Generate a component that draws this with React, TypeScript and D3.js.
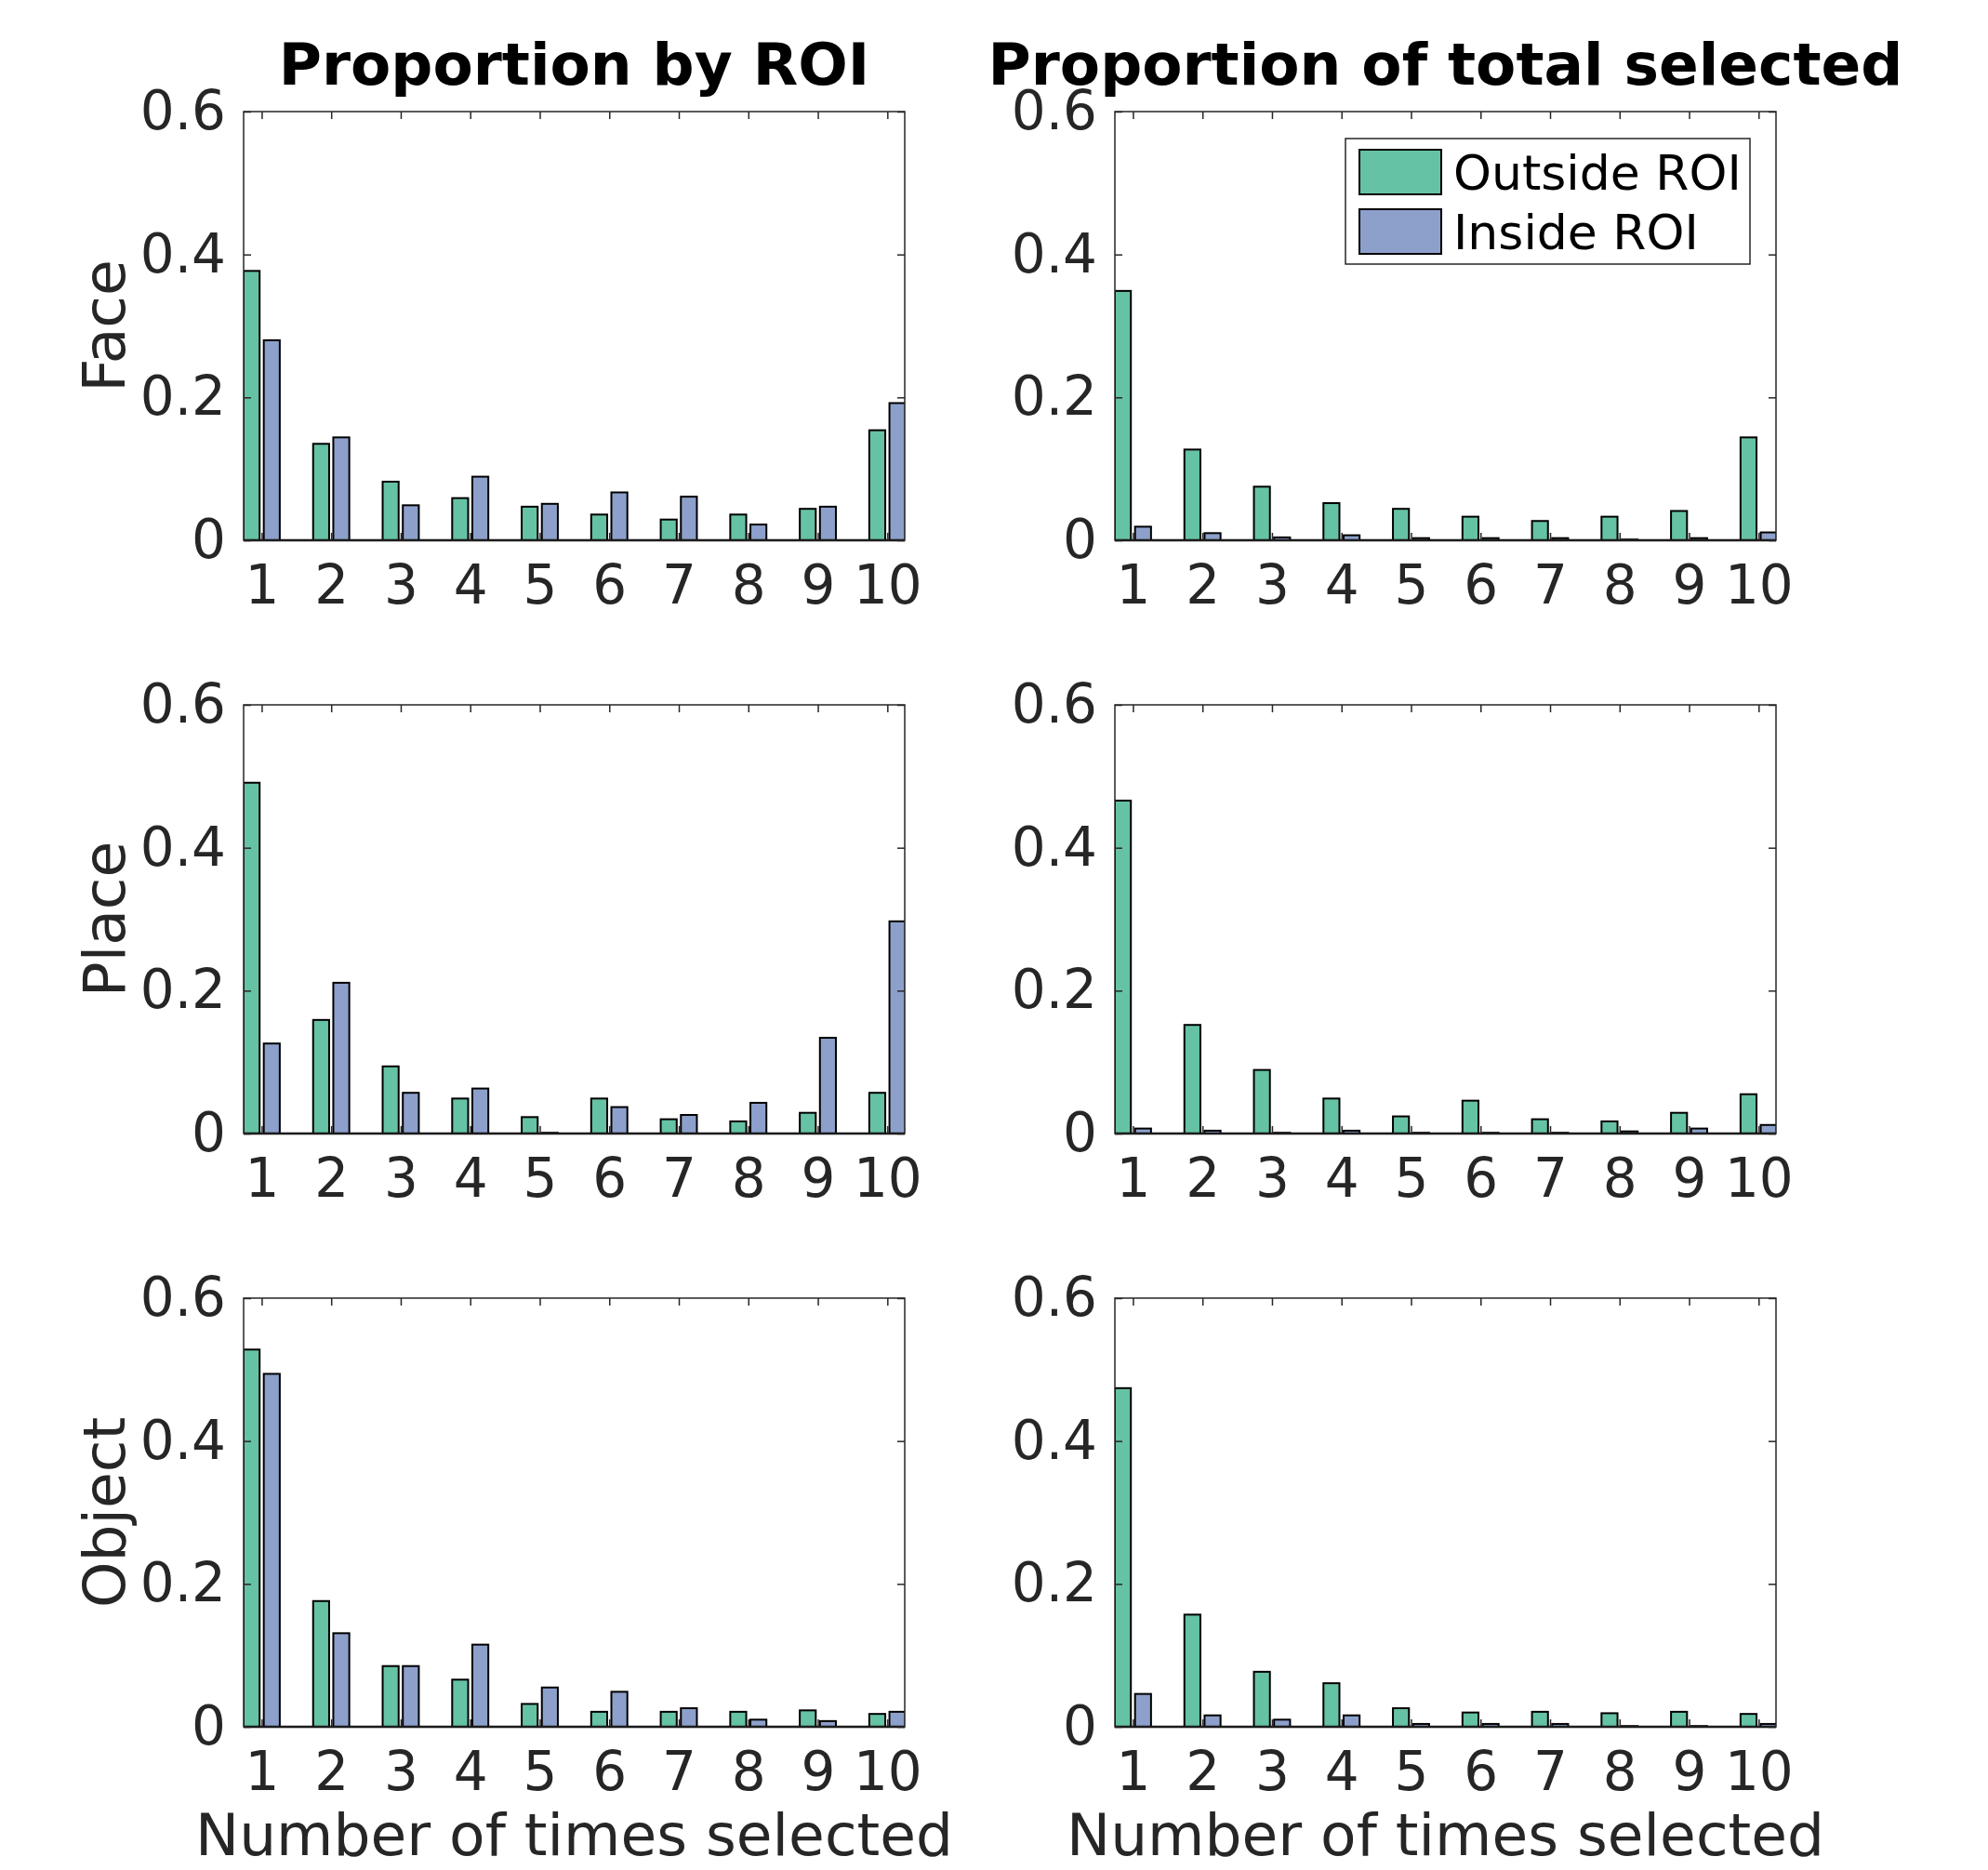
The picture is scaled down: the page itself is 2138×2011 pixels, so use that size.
import React, { useEffect, useRef } from "react";
import * as d3 from "d3";

// number of times an item was selected (x categories)
const timesSelected = [1, 2, 3, 4, 5, 6, 7, 8, 9, 10];
const yTicks = [0, 0.2, 0.4, 0.6];
const rowLabels = ["Face", "Place", "Object"];
const columnTitles = ["Proportion by ROI", "Proportion of total selected"];
const seriesNames = ["Outside ROI", "Inside ROI"];
const seriesColors = ["#66c2a5", "#8da0cb"];
const xLabel = "Number of times selected";

// left column: proportion by ROI
const faceByRoiOutside = [0.377, 0.135, 0.082, 0.059, 0.047, 0.036, 0.029, 0.036, 0.044, 0.154];
const faceByRoiInside = [0.28, 0.144, 0.049, 0.089, 0.051, 0.067, 0.061, 0.022, 0.047, 0.192];
const placeByRoiOutside = [0.491, 0.159, 0.094, 0.049, 0.023, 0.049, 0.02, 0.017, 0.029, 0.057];
const placeByRoiInside = [0.126, 0.211, 0.057, 0.063, 0.001, 0.037, 0.026, 0.043, 0.134, 0.297];
const objectByRoiOutside = [0.528, 0.176, 0.085, 0.066, 0.032, 0.021, 0.021, 0.021, 0.023, 0.018];
const objectByRoiInside = [0.494, 0.131, 0.085, 0.115, 0.055, 0.049, 0.026, 0.01, 0.008, 0.021];

// right column: proportion of total selected
const faceTotalOutside = [0.349, 0.127, 0.075, 0.052, 0.044, 0.033, 0.027, 0.033, 0.041, 0.144];
const faceTotalInside = [0.019, 0.01, 0.004, 0.007, 0.003, 0.003, 0.003, 0.001, 0.003, 0.011];
const placeTotalOutside = [0.466, 0.152, 0.089, 0.049, 0.024, 0.046, 0.02, 0.017, 0.029, 0.055];
const placeTotalInside = [0.007, 0.004, 0.001, 0.004, 0.001, 0.001, 0.001, 0.003, 0.007, 0.012];
const objectTotalOutside = [0.474, 0.157, 0.077, 0.061, 0.026, 0.02, 0.021, 0.019, 0.021, 0.018];
const objectTotalInside = [0.046, 0.016, 0.01, 0.016, 0.004, 0.004, 0.004, 0.001, 0.001, 0.004];

const panels = [
  [[faceByRoiOutside, faceByRoiInside], [faceTotalOutside, faceTotalInside]],
  [[placeByRoiOutside, placeByRoiInside], [placeTotalOutside, placeTotalInside]],
  [[objectByRoiOutside, objectByRoiInside], [objectTotalOutside, objectTotalInside]],
];

const WIDTH = 2138;
const HEIGHT = 2011;
const colX = [262, 1199];
const rowY = [120, 758, 1396];
const panelW = 711;
const panelH = 461;
const FONT = "DejaVu Sans";
const AX_COLOR = "#262626";
// bar extent relative to the group centre, for each series
const barOffsets = [
  [-0.26, -0.03],
  [0.03, 0.26],
];

const App = () => {
  const ref = useRef<SVGSVGElement>(null);

  useEffect(() => {
    const svg = d3.select(ref.current);
    svg.selectAll("*").remove();
    svg.append("rect").attr("width", WIDTH).attr("height", HEIGHT).attr("fill", "#fff");

    const x = d3.scaleLinear().domain([0.74, 10.25]).range([0, panelW]);
    const y = d3.scaleLinear().domain([0, 0.6]).range([panelH, 0]);

    panels.forEach((row, r) => {
      row.forEach((series, c) => {
        const g = svg
          .append("g")
          .attr("transform", "translate(" + colX[c] + "," + rowY[r] + ")");
        const clipId = "clip-" + r + "-" + c;
        g.append("clipPath")
          .attr("id", clipId)
          .append("rect")
          .attr("width", panelW)
          .attr("height", panelH);

        const bars = g.append("g").attr("clip-path", "url(#" + clipId + ")");
        series.forEach((vals, s) => {
          bars
            .selectAll(null)
            .data(vals)
            .enter()
            .append("rect")
            .attr("x", (d, i) => x(timesSelected[i] + barOffsets[s][0]))
            .attr("width", x(1 + barOffsets[s][1]) - x(1 + barOffsets[s][0]))
            .attr("y", (d) => y(d))
            .attr("height", (d) => y(0) - y(d))
            .attr("fill", seriesColors[s])
            .attr("stroke", "#000")
            .attr("stroke-width", 2);
        });
        // bar baseline
        g.append("line")
          .attr("x1", 0)
          .attr("x2", panelW)
          .attr("y1", y(0))
          .attr("y2", y(0))
          .attr("stroke", "#000")
          .attr("stroke-width", 2.5);

        const styleAxis = (sel) => {
          sel.select(".domain").remove();
          sel.selectAll("line").attr("stroke", AX_COLOR).attr("stroke-width", 1.5);
          sel
            .selectAll("text")
            .attr("font-family", FONT)
            .attr("font-size", 58)
            .attr("fill", AX_COLOR);
        };

        g.append("g")
          .attr("transform", "translate(0," + panelH + ")")
          .call(d3.axisBottom(x).tickValues(timesSelected).tickSizeInner(-8).tickSizeOuter(0).tickPadding(27))
          .call(styleAxis);
        g.append("g")
          .call(d3.axisTop(x).tickValues(timesSelected).tickSizeInner(-8).tickSizeOuter(0).tickFormat(() => ""))
          .call(styleAxis);
        g.append("g")
          .call(
            d3
              .axisLeft(y)
              .tickValues(yTicks)
              .tickSizeInner(-8)
              .tickSizeOuter(0)
              .tickPadding(19)
              .tickFormat((d) => (d === 0 ? "0" : d3.format(".1f")(d)))
          )
          .call(styleAxis);
        g.append("g")
          .attr("transform", "translate(" + panelW + ",0)")
          .call(d3.axisRight(y).tickValues(yTicks).tickSizeInner(-8).tickSizeOuter(0).tickFormat(() => ""))
          .call(styleAxis);

        g.append("rect")
          .attr("width", panelW)
          .attr("height", panelH)
          .attr("fill", "none")
          .attr("stroke", AX_COLOR)
          .attr("stroke-width", 1.5);

        if (c === 0) {
          svg
            .append("text")
            .attr("transform", "translate(134," + (rowY[r] + panelH / 2) + ") rotate(-90)")
            .attr("text-anchor", "middle")
            .attr("font-family", FONT)
            .attr("font-size", 63)
            .attr("fill", AX_COLOR)
            .text(rowLabels[r]);
        }

        if (r === 0) {
          svg
            .append("text")
            .attr("x", colX[c] + panelW / 2)
            .attr("y", 91)
            .attr("text-anchor", "middle")
            .attr("font-family", FONT)
            .attr("font-weight", "bold")
            .attr("font-size", 63)
            .attr("fill", "#000")
            .text(columnTitles[c]);
        }

        if (r === rowY.length - 1) {
          svg
            .append("text")
            .attr("x", colX[c] + panelW / 2)
            .attr("y", 1995)
            .attr("text-anchor", "middle")
            .attr("font-family", FONT)
            .attr("font-size", 63)
            .attr("fill", AX_COLOR)
            .text(xLabel);
        }

        if (r === 0 && c === 1) {
          const lg = g.append("g").attr("transform", "translate(248,29)");
          lg.append("rect")
            .attr("width", 435)
            .attr("height", 135)
            .attr("fill", "#fff")
            .attr("stroke", AX_COLOR)
            .attr("stroke-width", 1.5);
          seriesNames.forEach((name, s) => {
            lg.append("rect")
              .attr("x", 15)
              .attr("y", 12 + s * 64)
              .attr("width", 88)
              .attr("height", 48)
              .attr("fill", seriesColors[s])
              .attr("stroke", "#000")
              .attr("stroke-width", 2);
            lg.append("text")
              .attr("x", 116)
              .attr("y", 55 + s * 64)
              .attr("font-family", FONT)
              .attr("font-size", 52)
              .attr("fill", "#000")
              .text(name);
          });
        }
      });
    });
  }, []);

  return (
    <svg
      ref={ref}
      width={WIDTH}
      height={HEIGHT}
      style={{ position: "absolute", left: 0, top: 0, display: "block" }}
    />
  );
};

export default App;
